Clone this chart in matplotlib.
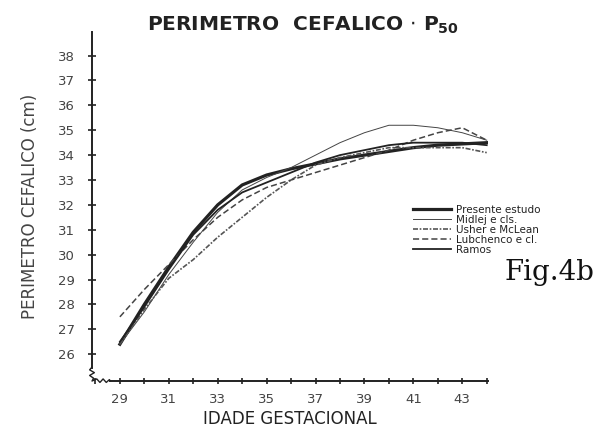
import matplotlib.pyplot as plt
from matplotlib.ticker import MultipleLocator

# Perimetro cefalico P50 - idade gestacional (semanas)
idade = [29, 30, 31, 32, 33, 34, 35, 36, 37, 38, 39, 40, 41, 42, 43, 44]

presente = [26.4, 28.0, 29.5, 30.9, 32.0, 32.8, 33.2, 33.45, 33.65, 33.85, 34.0, 34.15, 34.3, 34.4, 34.45, 34.5]
midlej = [26.4, 27.7, 29.2, 30.5, 31.7, 32.6, 33.1, 33.5, 34.0, 34.5, 34.9, 35.2, 35.2, 35.1, 34.9, 34.6]
usher = [26.4, 27.8, 29.05, 29.8, 30.7, 31.5, 32.3, 33.0, 33.6, 33.9, 34.1, 34.3, 34.3, 34.3, 34.3, 34.1]
lubchenco = [27.5, 28.6, 29.6, 30.6, 31.5, 32.2, 32.7, 33.0, 33.3, 33.6, 33.9, 34.2, 34.6, 34.9, 35.1, 34.6]
ramos = [26.5, 27.9, 29.4, 30.8, 31.8, 32.5, 32.9, 33.3, 33.7, 34.0, 34.2, 34.4, 34.5, 34.5, 34.5, 34.4]

labels = ["Presente estudo", "Midlej e cls.", "Usher e McLean", "Lubchenco e cl.", "Ramos"]
x_labels = [29, 31, 33, 35, 37, 39, 41, 43]
y_ticks = list(range(26, 39))

ink = '#222222'
font = {'family': 'DejaVu Sans', 'size': 9.5}
plt.rc('font', **font)

fig = plt.figure(figsize=(5.99, 4.32), dpi=100)
ax = fig.add_axes([0.1536, 0.118, 0.661, 0.808])

ax.plot(idade, presente, color=ink, lw=2.3, label=labels[0])
ax.plot(idade, midlej, color='#444444', lw=0.7, label=labels[1])
ax.plot(idade, usher, color='#555555', lw=1.2, dashes=(3, 1, 1, 1), label=labels[2])
ax.plot(idade, lubchenco, color='#444444', lw=1.1, dashes=(4, 2), label=labels[3])
ax.plot(idade, ramos, color=ink, lw=1.3, label=labels[4])

ax.set_xlim(27.86, 44.05)
ax.set_ylim(24.92, 38.95)
for s in ['top', 'right']:
    ax.spines[s].set_visible(False)
for s in ['left', 'bottom']:
    ax.spines[s].set_color(ink)
    ax.spines[s].set_linewidth(1.4)
ax.spines['left'].set_bounds(25.45, 38.95)
ax.spines['bottom'].set_bounds(28.6, 44.05)

# axis break squiggle at the corner
ax.plot([0.0, -0.006, 0.006, -0.006, 0.004, 0.0, 0.012, 0.02, 0.028, 0.036, 0.044, 0.046],
        [0.04, 0.032, 0.024, 0.016, 0.008, 0.0, 0.006, -0.004, 0.006, -0.004, 0.004, 0.0],
        transform=ax.transAxes, color=ink, lw=1.0, clip_on=False)

ax.set_xticks(x_labels)
ax.xaxis.set_minor_locator(MultipleLocator(1))
ax.set_yticks(y_ticks)
ax.tick_params(axis='both', which='both', direction='inout', color=ink, width=1.2, labelcolor='#444444')
ax.tick_params(axis='x', which='major', length=5, pad=6)
ax.tick_params(axis='x', which='minor', length=5)
ax.tick_params(axis='y', length=6, pad=9)

ax.set_xlabel("IDADE GESTACIONAL", fontsize=12, color=ink, labelpad=3)
ax.set_ylabel("PERIMETRO CEFALICO (cm)", fontsize=12, color='#444444', labelpad=14)
fig.text(0.505, 0.942, r"PERIMETRO  CEFALICO $\cdot$ P$_{\mathbf{50}}$", ha='center', va='center',
         fontsize=14.5, fontweight='bold', color=ink)

ax.legend(loc='upper left', bbox_to_anchor=(413 / 599, 1 - 205 / 432), bbox_transform=fig.transFigure,
          frameon=False, fontsize=7.5, handlelength=3.6, handletextpad=0.5, labelspacing=0.0,
          borderpad=0, borderaxespad=0, labelcolor=ink)

fig.text(0.843, 0.37, "Fig.4b", family='DejaVu Serif', fontsize=20, color='#111111', ha='left', va='center')

plt.savefig('out.png', dpi=100)
